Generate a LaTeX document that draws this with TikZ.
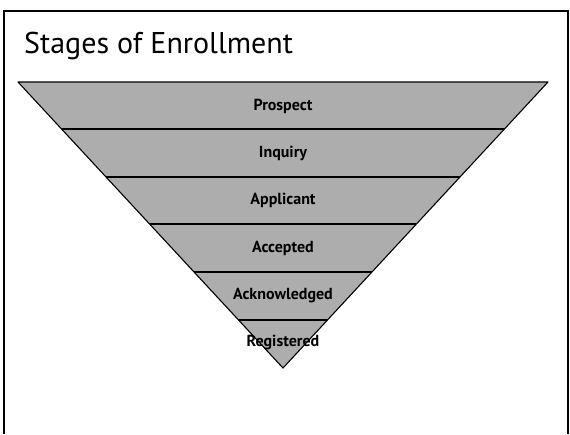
\documentclass[tikz,border=0pt]{standalone}
\usepackage{fontspec}
\setmainfont{PT Sans}
\begin{document}
\begin{tikzpicture}[x=1pt,y=-1pt,
  lbl/.style={font=\bfseries\fontsize{16}{16}\selectfont,text=black,inner sep=0pt},
  frameline/.style={draw=black,line width=1.4pt},
  edge/.style={black,line width=1.1pt,line join=round}]
\useasboundingbox (0,0) rectangle (570,434);
\coordinate (tl) at (4,11);
\coordinate (tr) at (568,11);
\coordinate (bl) at (4,434);
\coordinate (br) at (568,434);
\draw[frameline] (bl) -- (tl) -- (tr) -- (br);
\node[anchor=base west,inner sep=0pt,font=\fontsize{30}{30}\selectfont] (title) at (24,53) {Stages of Enrollment};
% funnel
\coordinate (A) at (18,82);
\coordinate (B) at (548,82);
\coordinate (apex) at (283,368);
\fill[black!32] (A) -- (B) -- (apex) -- cycle;
\foreach \y [count=\i] in {129,177,224,272,320}{
  \pgfmathsetmacro{\hw}{(265/286)*(368-\y)}
  \coordinate (L\i) at ({283-\hw},\y);
  \coordinate (R\i) at ({283+\hw},\y);
  \draw[edge] (L\i) -- (R\i);
}
\draw[edge] (A) -- (B) -- (apex) -- cycle;
\node[lbl] (p1) at (283,106) {Prospect};
\node[lbl] (p2) at (283,153) {Inquiry};
\node[lbl] (p3) at (283,200) {Applicant};
\node[lbl] (p4) at (283,248) {Accepted};
\node[lbl] (p5) at (283,296) {Acknowledged};
\node[lbl] (p6) at (283,343) {Registered};
\end{tikzpicture}
\end{document}
